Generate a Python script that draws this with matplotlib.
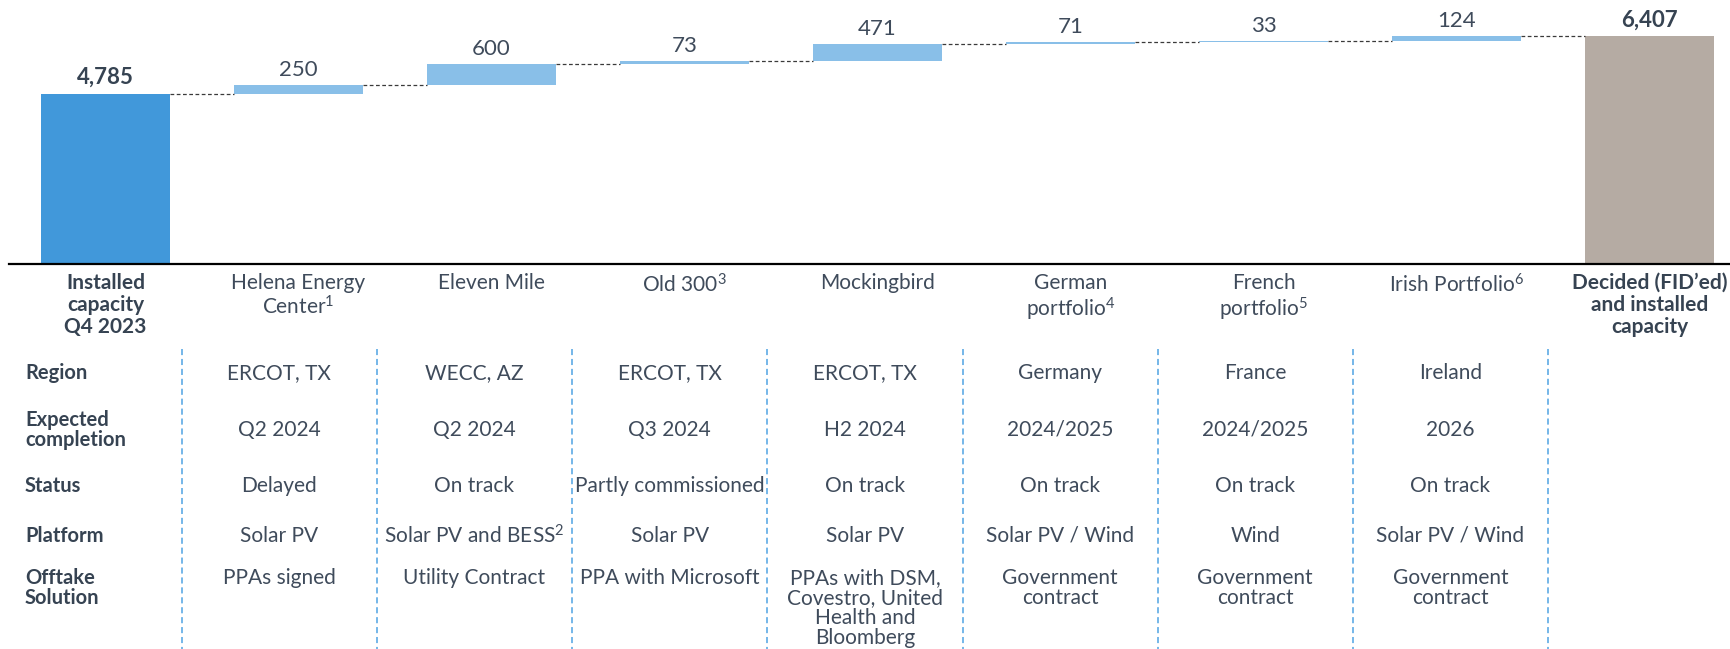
import matplotlib
matplotlib.use("Agg")
import matplotlib.pyplot as plt
from matplotlib.transforms import blended_transform_factory

plt.rcParams['font.family'] = ['Lato', 'DejaVu Sans']
plt.rcParams['mathtext.fontset'] = 'custom'
plt.rcParams['mathtext.rm'] = 'Lato'
plt.rcParams['mathtext.it'] = 'Lato:italic'
plt.rcParams['mathtext.bf'] = 'Lato:bold'

# capacity bridge (MW)
start_value = 4785
increments = [250, 600, 73, 471, 71, 33, 124]
total_value = 6407

categories = ["Installed\ncapacity\nQ4 2023", "Helena Energy\nCenter$^{1}$", "Eleven Mile",
              "Old 300$^{3}$", "Mockingbird", "German\nportfolio$^{4}$",
              "French\nportfolio$^{5}$", "Irish Portfolio$^{6}$",
              "Decided (FID’ed)\nand installed\ncapacity"]

row_labels = ["Region", "Expected\ncompletion", "Status", "Platform", "Offtake\nSolution"]
region = ["ERCOT, TX", "WECC, AZ", "ERCOT, TX", "ERCOT, TX", "Germany", "France", "Ireland"]
completion = ["Q2 2024", "Q2 2024", "Q3 2024", "H2 2024", "2024/2025", "2024/2025", "2026"]
status = ["Delayed", "On track", "Partly commissioned", "On track", "On track",
          "On track", "On track"]
platform = ["Solar PV", "Solar PV and BESS$^{2}$", "Solar PV", "Solar PV", "Solar PV / Wind",
            "Wind", "Solar PV / Wind"]
offtake = ["PPAs signed", "Utility Contract", "PPA with Microsoft",
           "PPAs with DSM,\nCovestro, United\nHealth and\nBloomberg",
           "Government\ncontract", "Government\ncontract", "Government\ncontract"]

TEXT = "#3f4b5b"
DARK = "#364352"
BLUE = "#4198da"
LIGHT = "#89bfe8"
GREY = "#b5aba3"

W, H = 1730, 649
fig = plt.figure(figsize=(W / 100, H / 100), dpi=100)

# bar panel: top of figure down to the baseline
base_px = 264.3
ax = fig.add_axes([0, (H - base_px) / H, 1, base_px / H])
x0 = -105.5 / 193
ax.set_xlim(x0, x0 + W / 193)
ax.set_ylim(0, base_px * 28.08)
ax.axis("off")

# table / label layer in pixel units
tab = fig.add_axes([0, 0, 1, 1], zorder=-1)
tab.set_xlim(0, W)
tab.set_ylim(H, 0)
tab.axis("off")

bw = 129 / 193
n = len(categories)

# waterfall bars
ax.bar(0, start_value, width=bw, color=BLUE)
level = start_value
bottoms = []
for inc in increments:
    bottoms.append(level)
    level += inc
xs = list(range(1, len(increments) + 1))
ax.bar(xs, increments, bottom=bottoms, width=bw, color=LIGHT)
ax.bar(n - 1, total_value, width=bw, color=GREY)

# connectors
tops = [start_value] + [b + v for b, v in zip(bottoms, increments)]
for i, t in enumerate(tops):
    ax.plot([i + bw / 2, i + 1 - bw / 2], [t, t], color="#3a3a3a", lw=0.9,
            ls=(0, (3, 2)))

# value labels
ax.annotate(f"{start_value:,}", (0, start_value), xytext=(0, 7), textcoords="offset points",
            ha="center", va="baseline", fontsize=16, fontweight="bold", color=DARK)
for x, b, v in zip(xs, bottoms, increments):
    ax.annotate(f"{v:,}", (x, b + v), xytext=(0, 6.5), textcoords="offset points",
                ha="center", va="baseline", fontsize=16, color=TEXT)
ax.annotate(f"{total_value:,}", (n - 1, total_value), xytext=(0, 7),
            textcoords="offset points", ha="center", va="baseline", fontsize=16,
            fontweight="bold", color=DARK)

# baseline
ax.axhline(0, xmin=9 / W, xmax=1, color="black", lw=1.6, clip_on=False)

# category labels under the bars
trans = blended_transform_factory(ax.transData, tab.transData)
for i, c in enumerate(categories):
    bold = i in (0, n - 1)
    tab.text(i, 273, c, transform=trans, ha="center", va="top", fontsize=15,
             fontweight="bold" if bold else "normal", color=DARK if bold else TEXT,
             linespacing=1.12)

# dashed column dividers
divs = [181.7 + 195.2 * k for k in range(8)]
tab.vlines(divs, 349, H, colors="#4fa3e3", lw=1.1, linestyles=(0, (4, 2.5)))

# table rows
col_x = [(divs[k] + divs[k + 1]) / 2 for k in range(7)]
rows = [region, completion, status, platform, offtake]
row_y = [373, 430, 486, 536, 568]
for lab, vals, y in zip(row_labels, rows, row_y):
    va = "top" if lab.startswith("Offtake") else "center"
    tab.text(25, y, lab, ha="left", va=va, fontsize=14.5, fontweight="bold",
             color=DARK, linespacing=1.0)
    for cx, v in zip(col_x, vals):
        tab.text(cx, y, v, ha="center", va=va, fontsize=15, color=TEXT, linespacing=1.0)

fig.savefig("out.png", dpi=100)
